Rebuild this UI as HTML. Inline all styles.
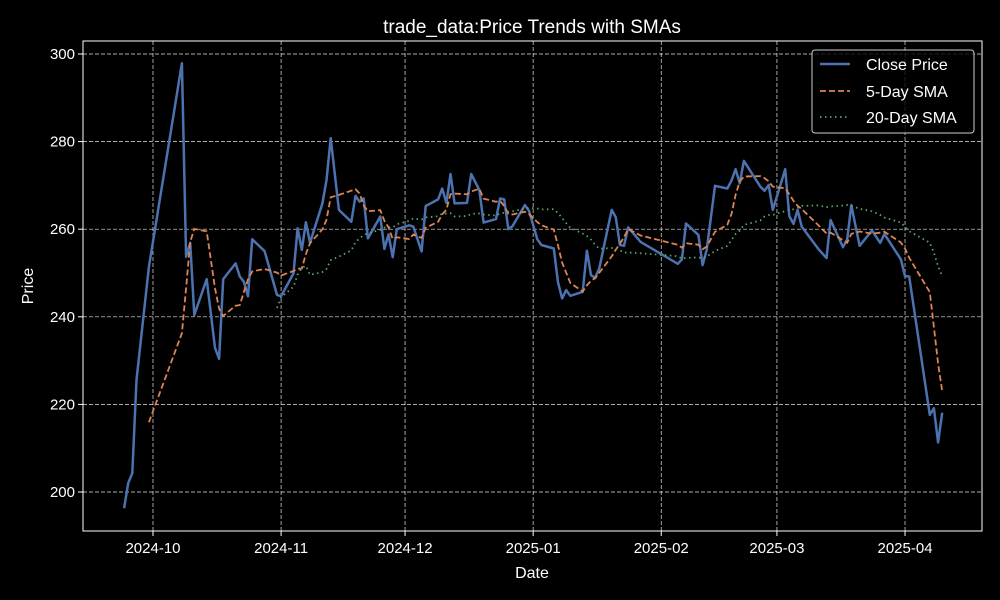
<!DOCTYPE html>
<html><head><meta charset="utf-8"><style>
html,body{margin:0;padding:0;background:#000;}
svg{display:block;font-family:"Liberation Sans","DejaVu Sans",sans-serif;}
</style></head><body>
<svg id="chart" width="1000" height="600" viewBox="0 0 1000 600">
<rect x="0" y="0" width="1000" height="600" fill="#000"/>
<text x="532" y="33" fill="#fff" font-size="19" text-anchor="middle">trade_data:Price Trends with SMAs</text>
<text x="532" y="578" fill="#fff" font-size="16" text-anchor="middle">Date</text>
<text x="33" y="286" fill="#fff" font-size="16" text-anchor="middle" transform="rotate(-90 33 286)">Price</text>
<g id="grid"></g><g id="series"></g><g id="ticks"></g>
<rect x="83" y="41" width="899" height="490" fill="none" stroke="#fff" stroke-width="1"/>
<g>
<rect x="812" y="50" width="162" height="83" rx="3" fill="#000" fill-opacity="0.8" stroke="#ccc" stroke-width="1"/>
<g><line x1="820" y1="64" x2="850" y2="64" stroke="#4c72b0" stroke-width="2.5"/><text x="866" y="70" fill="#fff" font-size="16">Close Price</text></g>
<g><line x1="820" y1="91" x2="850" y2="91" stroke="#dd8452" stroke-width="1.8" stroke-dasharray="6,3"/><text x="866" y="97" fill="#fff" font-size="16">5-Day SMA</text></g>
<g><line x1="820" y1="117" x2="850" y2="117" stroke="#55a868" stroke-width="1.8" stroke-dasharray="1.5,3.5"/><text x="866" y="123" fill="#fff" font-size="16">20-Day SMA</text></g>
</g>
</svg>
<script>
const dates = ["2024-09-24","2024-09-25","2024-09-26","2024-09-27","2024-09-30","2024-10-08","2024-10-09","2024-10-10","2024-10-11","2024-10-14","2024-10-16","2024-10-17","2024-10-18","2024-10-21","2024-10-22","2024-10-23","2024-10-24","2024-10-25","2024-10-28","2024-10-31","2024-11-01","2024-11-04","2024-11-05","2024-11-06","2024-11-07","2024-11-08","2024-11-11","2024-11-12","2024-11-13","2024-11-15","2024-11-18","2024-11-19","2024-11-20","2024-11-21","2024-11-22","2024-11-25","2024-11-26","2024-11-27","2024-11-28","2024-11-29","2024-12-02","2024-12-03","2024-12-05","2024-12-06","2024-12-09","2024-12-10","2024-12-11","2024-12-12","2024-12-13","2024-12-16","2024-12-17","2024-12-19","2024-12-20","2024-12-23","2024-12-24","2024-12-25","2024-12-26","2024-12-27","2024-12-30","2024-12-31","2025-01-02","2025-01-03","2025-01-06","2025-01-07","2025-01-08","2025-01-09","2025-01-10","2025-01-13","2025-01-14","2025-01-15","2025-01-16","2025-01-17","2025-01-20","2025-01-21","2025-01-22","2025-01-23","2025-01-24","2025-01-27","2025-02-05","2025-02-06","2025-02-07","2025-02-10","2025-02-11","2025-02-12","2025-02-14","2025-02-17","2025-02-18","2025-02-19","2025-02-20","2025-02-21","2025-02-25","2025-02-26","2025-02-27","2025-02-28","2025-03-03","2025-03-04","2025-03-05","2025-03-06","2025-03-07","2025-03-11","2025-03-13","2025-03-14","2025-03-17","2025-03-18","2025-03-19","2025-03-21","2025-03-24","2025-03-26","2025-03-27","2025-03-31","2025-04-01","2025-04-02","2025-04-07","2025-04-08","2025-04-09","2025-04-10"];
const closePrices = [196.3,202,204.3,225.6,251.4,297.9,253.7,256.9,240.4,248.6,232.9,230.4,248.6,252.2,249.2,248,244.7,257.7,255,245,244.7,249.9,260.2,255.3,261.6,256.9,265.9,271.2,280.8,264.4,261.7,267.6,266.3,267,257.9,262.9,255.5,258.8,253.6,260,260.9,260.6,254.9,265.3,266.8,269.3,266,272.6,265.9,266,272.6,268.9,261.5,262.3,267,266.8,260,260.7,265.5,264.2,257.7,256.4,255.6,248,244.2,246.1,244.8,245.7,255.1,249.5,248.9,251.1,264.4,262.7,256.4,256.2,260.4,257.1,252.1,253.1,261.3,258.7,251.8,255.3,269.9,269.3,271.1,273.7,270.5,275.6,269.7,268.8,270.1,264.4,273.7,263,261.2,264.4,260.6,255.5,253.4,262.1,255.9,257.7,265.5,256.2,259.7,256.9,258.9,253.1,249.3,249.2,217.6,219.1,211.3,218.1];
const yTicks = [200,220,240,260,280,300];
const xTickLabels = ["2024-10","2024-11","2024-12","2025-01","2025-02","2025-03","2025-04"];

const NS="http://www.w3.org/2000/svg";
const L=83,R=982,T=41,B=531;
const d0=Date.parse("2024-10-01"), DAY=86400000, PXD=4.132, X0=153;
function xs(s){return X0+(Date.parse(s.length===7?s+"-01":s)-d0)/DAY*PXD;}
function ys(v){return 54+(300-v)*4.38;}
function mk(tag,attrs,parent){const e=document.createElementNS(NS,tag);for(const k in attrs)e.setAttribute(k,attrs[k]);parent.appendChild(e);return e;}
const grid=document.getElementById('grid'),ticks=document.getElementById('ticks'),series=document.getElementById('series');
yTicks.forEach(v=>{const y=ys(v);
 const g=mk('line',{x1:L,x2:R,y1:y,y2:y,stroke:'#fff','stroke-width':0.7,'stroke-opacity':0.9,'stroke-dasharray':'4,2'},grid);
 
 
 mk('line',{x1:L-5,x2:L,y1:y,y2:y,stroke:'#fff','stroke-width':1},ticks);
 const t=mk('text',{x:L-8,y:y+5,fill:'#fff','font-size':15,'text-anchor':'end'},ticks);t.textContent=v;
 
 
});
xTickLabels.forEach(s=>{const x=xs(s);
 const g=mk('line',{x1:x,x2:x,y1:T,y2:B,stroke:'#fff','stroke-width':0.7,'stroke-opacity':0.9,'stroke-dasharray':'4,2'},grid);
 
 
 mk('line',{x1:x,x2:x,y1:B,y2:B+5,stroke:'#fff','stroke-width':1},ticks);
 const t=mk('text',{x:x,y:B+22,fill:'#fff','font-size':15,'text-anchor':'middle'},ticks);t.textContent=s;
 
 
});
function sma(n){const out=[];for(let i=0;i<closePrices.length;i++){if(i<n-1){out.push(null);continue;}let s=0;for(let j=i-n+1;j<=i;j++)s+=closePrices[j];out.push(s/n);}return out;}
function pathOf(vals){let d='';vals.forEach((v,i)=>{if(v==null)return;d+=(d?'L':'M')+xs(dates[i]).toFixed(1)+','+ys(v).toFixed(1);});return d;}
const p1=mk('path',{d:pathOf(closePrices),fill:'none',stroke:'#4c72b0','stroke-width':2.5,'stroke-linejoin':'round'},series);


const p2=mk('path',{d:pathOf(sma(5)),fill:'none',stroke:'#dd8452','stroke-width':1.8,'stroke-dasharray':'6,3'},series);


const p3=mk('path',{d:pathOf(sma(20)),fill:'none',stroke:'#55a868','stroke-width':1.8,'stroke-dasharray':'1.5,3.5'},series);


</script>
</body></html>
